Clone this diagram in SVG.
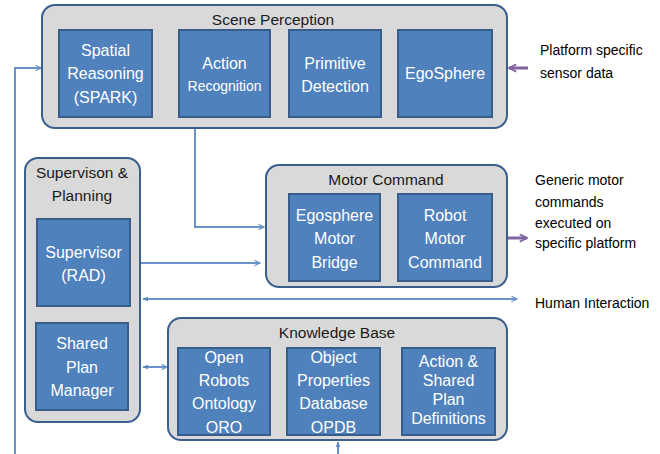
<svg xmlns="http://www.w3.org/2000/svg" width="660" height="454" viewBox="0 0 660 454">
<defs>
<style>
.cont{fill:#d9d9d9;stroke:#3a5f8c;stroke-width:2}
.box{fill:#4f81bd;stroke:#385d8a;stroke-width:2}
.bt{font-family:"Liberation Sans",Arial,sans-serif;font-size:16px;fill:#ffffff;text-anchor:middle}
.ct{font-family:"Liberation Sans",Arial,sans-serif;font-size:15.5px;fill:#1a1a1a;text-anchor:middle}
.side{font-family:"Liberation Sans",Arial,sans-serif;font-size:14px;fill:#000000}
.conn{fill:none;stroke:#6b93c8;stroke-width:2}
.purp{fill:none;stroke:#8064a2;stroke-width:3}
</style>
<marker id="open" viewBox="0 0 10 10" refX="9" refY="5" markerWidth="7" markerHeight="7" markerUnits="userSpaceOnUse" orient="auto">
<path d="M1,1 L9,5 L1,9" fill="none" stroke="#6b93c8" stroke-width="1.6"/>
</marker>
<marker id="fill" viewBox="0 0 10 10" refX="9" refY="5" markerWidth="6" markerHeight="6" markerUnits="userSpaceOnUse" orient="auto-start-reverse">
<path d="M0,1 L10,5 L0,9 Z" fill="#5a86bf"/>
</marker>
<marker id="dot" viewBox="0 0 10 10" refX="5" refY="5" markerWidth="4" markerHeight="4" markerUnits="userSpaceOnUse">
<circle cx="5" cy="5" r="4" fill="#5a86bf"/>
</marker>
<marker id="purpArr" viewBox="0 0 10 10" refX="9" refY="5" markerWidth="9" markerHeight="9" markerUnits="userSpaceOnUse" orient="auto">
<path d="M1,1 L9,5 L1,9" fill="none" stroke="#8064a2" stroke-width="2"/>
</marker>
</defs>
<rect width="660" height="454" fill="#ffffff"/>

<g id="connectors">
<polyline class="conn" points="15,454 15,68 41,68" marker-end="url(#open)"/>
<polyline class="conn" points="195,129 195,227 264,227" marker-end="url(#open)"/>
<line class="conn" x1="133" y1="263" x2="260" y2="263" marker-start="url(#dot)" marker-end="url(#open)"/>
<line class="conn" x1="143" y1="299" x2="517" y2="299" marker-start="url(#fill)" marker-end="url(#open)"/>
<line class="conn" x1="143" y1="367" x2="167" y2="367" marker-start="url(#fill)" marker-end="url(#open)"/>
<line class="conn" x1="338" y1="454" x2="338" y2="442" marker-end="url(#fill)"/>
<line class="purp" x1="528" y1="68" x2="509" y2="68" marker-end="url(#purpArr)"/>
<line class="purp" x1="493" y1="238" x2="527" y2="238" marker-end="url(#purpArr)"/>
</g>

<g id="scene-perception">
<rect class="cont" x="42" y="5" width="465" height="123" rx="13"/>
<text class="ct" x="273" y="25">Scene Perception</text>
</g>
<g id="spatial-reasoning">
<rect class="box" x="59" y="30" width="93" height="87"/>
<text class="bt" x="105.5" y="56">Spatial</text>
<text class="bt" x="105.5" y="79">Reasoning</text>
<text class="bt" x="105.5" y="103">(SPARK)</text>
</g>
<g id="action-recognition">
<rect class="box" x="179" y="30" width="91" height="87"/>
<text class="bt" x="224.5" y="69">Action</text>
<text class="bt" x="224.5" y="91" style="font-size:14px">Recognition</text>
</g>
<g id="primitive-detection">
<rect class="box" x="289" y="30" width="92" height="87"/>
<text class="bt" x="335" y="69">Primitive</text>
<text class="bt" x="335" y="92">Detection</text>
</g>
<g id="egosphere">
<rect class="box" x="398" y="30" width="94" height="87"/>
<text class="bt" x="445" y="79">EgoSphere</text>
</g>

<g id="motor-command">
<rect class="cont" x="266" y="165" width="241" height="122" rx="13"/>
<text class="ct" x="386" y="185">Motor Command</text>
</g>
<g id="egosphere-motor-bridge">
<rect class="box" x="289" y="194" width="91" height="87"/>
<text class="bt" x="334.5" y="221">Egosphere</text>
<text class="bt" x="334.5" y="244">Motor</text>
<text class="bt" x="334.5" y="268">Bridge</text>
</g>
<g id="robot-motor-command">
<rect class="box" x="398" y="194" width="94" height="87"/>
<text class="bt" x="445" y="221">Robot</text>
<text class="bt" x="445" y="244">Motor</text>
<text class="bt" x="445" y="268">Command</text>
</g>

<g id="supervision-planning">
<rect class="cont" x="25" y="158" width="115" height="264" rx="13"/>
<text class="ct" x="82" y="178">Supervison &amp;</text>
<text class="ct" x="82" y="201">Planning</text>
</g>
<g id="supervisor">
<rect class="box" x="37" y="219" width="93" height="87"/>
<text class="bt" x="83.5" y="258">Supervisor</text>
<text class="bt" x="83.5" y="281">(RAD)</text>
</g>
<g id="shared-plan-manager">
<rect class="box" x="36" y="323" width="92" height="87"/>
<text class="bt" x="82" y="349">Shared</text>
<text class="bt" x="82" y="373">Plan</text>
<text class="bt" x="82" y="396">Manager</text>
</g>

<g id="knowledge-base">
<rect class="cont" x="168" y="318" width="339" height="122" rx="13"/>
<text class="ct" x="337" y="338">Knowledge Base</text>
</g>
<g id="oro">
<rect class="box" x="178" y="348" width="92" height="87"/>
<text class="bt" x="224" y="363">Open</text>
<text class="bt" x="224" y="386">Robots</text>
<text class="bt" x="224" y="409">Ontology</text>
<text class="bt" x="224" y="433">ORO</text>
</g>
<g id="opdb">
<rect class="box" x="287" y="348" width="93" height="87"/>
<text class="bt" x="333.5" y="363">Object</text>
<text class="bt" x="333.5" y="386">Properties</text>
<text class="bt" x="333.5" y="409">Database</text>
<text class="bt" x="333.5" y="433">OPDB</text>
</g>
<g id="action-shared-plan">
<rect class="box" x="402" y="348" width="93" height="87"/>
<text class="bt" x="448.5" y="367">Action &amp;</text>
<text class="bt" x="448.5" y="386">Shared</text>
<text class="bt" x="448.5" y="405">Plan</text>
<text class="bt" x="448.5" y="424">Definitions</text>
</g>

<g id="labels">
<text class="side" x="540" y="55">Platform specific</text>
<text class="side" x="540" y="78">sensor data</text>
<text class="side" x="535" y="185">Generic motor</text>
<text class="side" x="535" y="207">commands</text>
<text class="side" x="535" y="228">executed on</text>
<text class="side" x="535" y="248">specific platform</text>
<text class="side" x="535" y="308">Human Interaction</text>
</g>
</svg>
